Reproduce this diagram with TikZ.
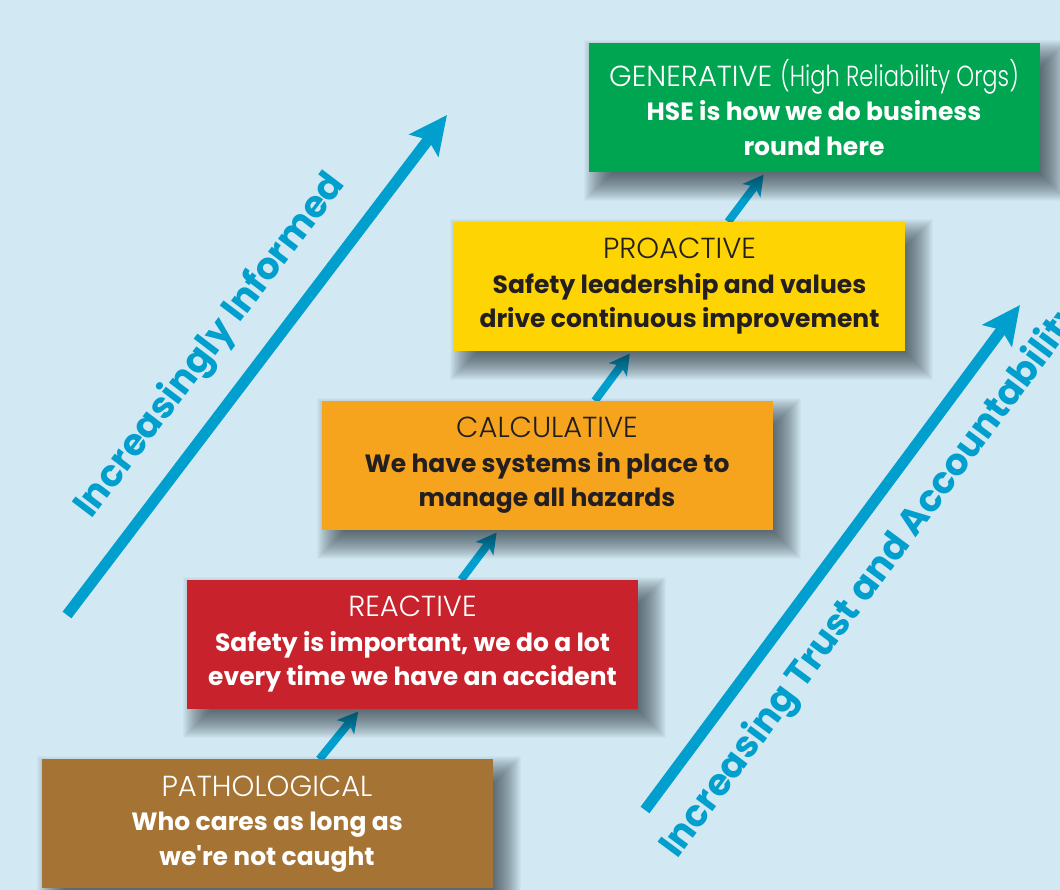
\documentclass[tikz,border=0pt]{standalone}
\usepackage{graphicx}
\usepackage{fontspec}
\setmainfont{Poppins}[BoldFont={Poppins SemiBold}]
\newfontfamily\lightfont{Poppins Light}
\newfontfamily\heavyfont{Poppins Bold}
\usetikzlibrary{arrows.meta}

\definecolor{skyback}{HTML}{D2E9F3}
\definecolor{arrowblue}{HTML}{009FCE}
\definecolor{genGreen}{HTML}{00A551}
\definecolor{proYellow}{HTML}{FFD403}
\definecolor{calcOrange}{HTML}{F6A41E}
\definecolor{reacRed}{HTML}{C8232C}
\definecolor{pathBrown}{HTML}{A57434}
\definecolor{inkdark}{HTML}{231F20}
\definecolor{shadowgrey}{HTML}{1C2830}

\pgfdeclarelayer{background}
\pgfdeclarelayer{shadow}
\pgfsetlayers{background,shadow,main}

\tikzset{
  stage/.style={rectangle, minimum width=451pt, minimum height=129pt,
    inner sep=0pt, align=center, font=\heavyfont\fontsize{25}{34.5}\selectfont},
  link/.style={arrowblue, line width=8pt, shorten >=3pt,
    -{Stealth[length=20pt, width=22pt, inset=5pt]}},
  bigarrow/.style={arrowblue, line width=11pt,
    -{Stealth[length=38pt, width=36pt, inset=7pt]}},
  axislabel/.style={text=arrowblue, inner sep=0pt,
    font=\heavyfont\fontsize{37}{40}\selectfont},
}
\newcommand{\stagename}[1]{{\lightfont\fontsize{29}{34.5}\selectfont #1}}
% soft drop shadow: stacked faint rectangles, offset down and right
\newcommand{\softshadow}[1]{%
  \foreach \r in {16,15,...,-12}{
    \pgfmathsetmacro\sxa{12-(\r)}
    \pgfmathsetmacro\sya{-13-(\r)}
    \pgfmathsetmacro\sxb{12+(\r)}
    \pgfmathsetmacro\syb{-13+(\r)}
    \fill[shadowgrey, opacity=0.03]
      ([shift={(\sxa,\sya)}]#1.south west) rectangle
      ([shift={(\sxb,\syb)}]#1.north east);
  }}

\begin{document}
\begin{tikzpicture}[x=1pt, y=1pt]
  \useasboundingbox (0,0) rectangle (1060,890);
  \clip (0,0) rectangle (1060,890);
  \begin{pgfonlayer}{background}
    \fill[skyback] (0,0) rectangle (1060,890);
  \end{pgfonlayer}

  % the two long arrows and their labels
  \coordinate (inf0) at (67,275);
  \coordinate (inf1) at (447,775);
  \draw[bigarrow] (inf0) -- (inf1);
  \node[axislabel, rotate=52.8] (informed) at (211,544) {Increasingly Informed};

  \coordinate (trust0) at (645,80);
  \coordinate (trust1) at (1020,585);
  \draw[bigarrow] (trust0) -- (trust1);
  \node[axislabel, rotate=53.4, anchor=base west] (trust) at (677,30)
    {Increasing Trust and Accountability};

  % the five stages
  \node[stage, fill=pathBrown, text=white] (path) at (267,66)
    {\stagename{PATHOLOGICAL}\\Who cares as long as\\we're not caught};
  \node[stage, fill=reacRed, text=white] (reac) at (412.5,245.5)
    {\stagename{REACTIVE}\\Safety is important, we do a lot\\every time we have an accident};
  \node[stage, fill=calcOrange, text=inkdark] (calc) at (547,424.5)
    {\stagename{CALCULATIVE}\\We have systems in place to\\manage all hazards};
  \node[stage, fill=proYellow, text=inkdark] (pro) at (679.5,603.5)
    {\stagename{PROACTIVE}\\Safety leadership and values\\drive continuous improvement};
  \node[stage, fill=genGreen, text=white] (gen) at (814,782.5)
    {\stagename{GENERATIVE \scalebox{0.78}[1]{(High Reliability Orgs)}}\\HSE is how we do business\\round here};

  \begin{pgfonlayer}{shadow}
    \softshadow{path}
    \softshadow{reac}
    \softshadow{calc}
    \softshadow{pro}
    \softshadow{gen}
  \end{pgfonlayer}

  % steps between the stages, kept under the shadows
  \begin{pgfonlayer}{background}
    \draw[link] (path) -- (reac);
    \draw[link] (reac) -- (calc);
    \draw[link] (calc) -- (pro);
    \draw[link] (pro) -- (gen);
  \end{pgfonlayer}
\end{tikzpicture}
\end{document}
